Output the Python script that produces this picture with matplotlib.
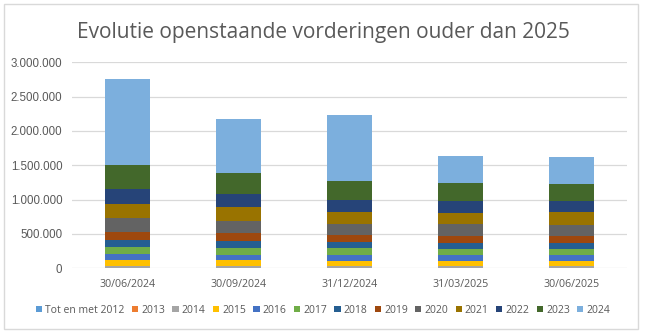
import matplotlib
matplotlib.use("Agg")
import matplotlib.pyplot as plt
from matplotlib.ticker import FuncFormatter
from matplotlib.patches import Rectangle
import numpy as np

dates = ["30/06/2024", "30/09/2024", "31/12/2024", "31/03/2025", "30/06/2025"]

series_names = ["Tot en met 2012", "2013", "2014", "2015", "2016", "2017", "2018",
                "2019", "2020", "2021", "2022", "2023", "2024"]

# values per year of origin, one list per series (5 dates)
tot_2012 = [4000, 4000, 3000, 3000, 3000]
y2013 = [2000, 2000, 2000, 2000, 2000]
y2014 = [27000, 27000, 27000, 27000, 27000]
y2015 = [87000, 87000, 72000, 72000, 72000]
y2016 = [87000, 72000, 87000, 87000, 87000]
y2017 = [101000, 101000, 101000, 87000, 87000]
y2018 = [101000, 101000, 87000, 87000, 87000]
y2019 = [126000, 116000, 101000, 101000, 101000]
y2020 = [193000, 174000, 159000, 174000, 164000]
y2021 = [203000, 203000, 188000, 170000, 184000]
y2022 = [217000, 188000, 174000, 164000, 159000]
y2023 = [362000, 319000, 275000, 261000, 261000]
y2024 = [1246000, 783000, 957000, 406000, 391000]

all_series = [tot_2012, y2013, y2014, y2015, y2016, y2017, y2018,
              y2019, y2020, y2021, y2022, y2023, y2024]

colors = ["#5B9BD5", "#ED7D31", "#A5A5A5", "#FFC000", "#4472C4", "#70AD47", "#255E91",
          "#9E480E", "#636363", "#997300", "#264478", "#43682B", "#7CAFDD"]

fig = plt.figure(figsize=(6.46, 3.33), dpi=100)
ax = fig.add_axes([0.1115, 0.1943, 0.859, 0.6186])

# outer chart border
fig.patches.append(Rectangle((0.006, 0.011), 0.982, 0.977, transform=fig.transFigure,
                             fill=False, edgecolor="#D9D9D9", linewidth=1.0))

x = np.arange(len(dates))
bottom = np.zeros(len(dates))
for name, vals, c in zip(series_names, all_series, colors):
    ax.bar(x, vals, width=0.4, bottom=bottom, color=c, label=name, zorder=3)
    bottom += np.array(vals)

ax.set_xlim(-0.5, len(dates) - 0.5)
ax.set_ylim(0, 3000000)
ax.set_yticks(np.arange(0, 3000001, 500000))
ax.yaxis.set_major_formatter(FuncFormatter(lambda v, p: "{:,.0f}".format(v).replace(",", ".")))
ax.set_xticks(x)
ax.set_xticklabels(dates)
ax.grid(axis="y", color="#D9D9D9", linewidth=0.9, zorder=0)
for s in ax.spines.values():
    s.set_visible(False)
ax.tick_params(axis="y", length=0, labelsize=8.3, colors="#595959", pad=7)
ax.tick_params(axis="x", length=0, labelsize=7.7, colors="#595959", pad=8)
for lab in ax.get_yticklabels():
    lab.set_family("Liberation Sans")
for lab in ax.get_xticklabels():
    lab.set_family("Open Sans")

fig.text(0.5, 0.886, "Evolutie openstaande vorderingen ouder dan 2025", ha="center", va="baseline",
         fontsize=15, color="#595959", family="Open Sans")

leg = fig.legend(loc="center", bbox_to_anchor=(0.5, 0.069), ncol=13, frameon=False,
                 handlelength=0.6, handleheight=0.6, handletextpad=0.3,
                 columnspacing=0.7, labelcolor="#595959", prop={"family": "Open Sans", "size": 7.5})

fig.savefig("out.png", dpi=100)
